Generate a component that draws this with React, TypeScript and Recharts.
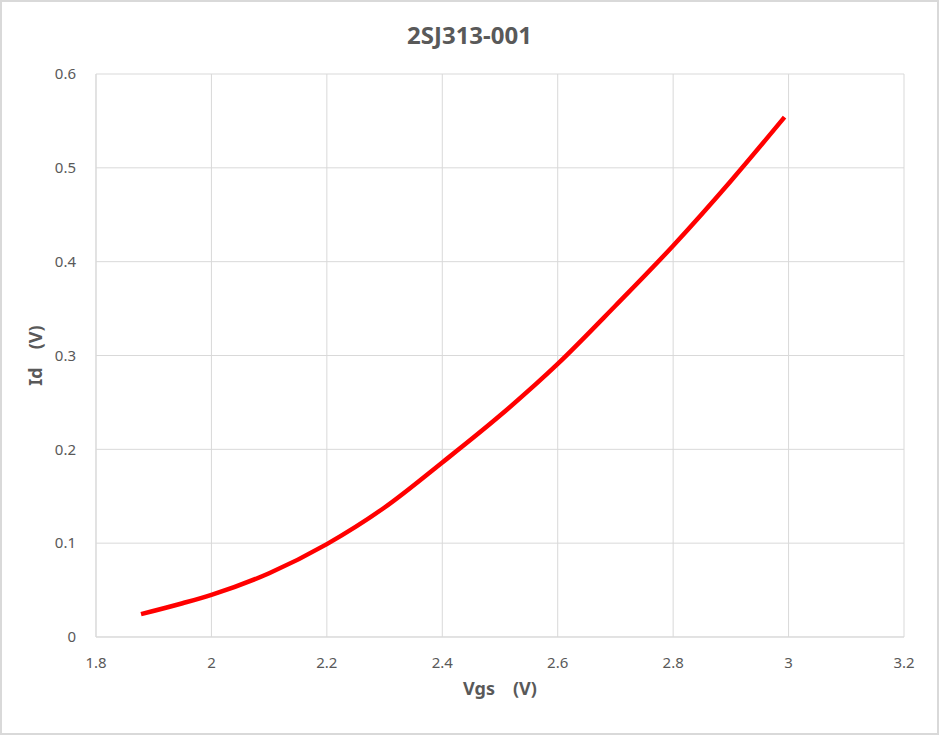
import { CartesianGrid, Line, LineChart, XAxis, YAxis, Label } from "recharts";

// Vgs (V)
const vgs = [1.878, 1.95, 2.0, 2.1, 2.2, 2.3, 2.4, 2.5, 2.6, 2.7, 2.8, 2.9, 2.993];
// Id values at the same points
const id = [0.0244, 0.036, 0.0449, 0.068, 0.099, 0.138, 0.186, 0.236, 0.291, 0.353, 0.417, 0.486, 0.554];

const xTicks = [1.8, 2, 2.2, 2.4, 2.6, 2.8, 3, 3.2];
const yTicks = [0, 0.1, 0.2, 0.3, 0.4, 0.5, 0.6];

const data = vgs.map((v, i) => ({ vgs: v, id: id[i] }));

const FONT = "'Noto Sans', 'Open Sans', sans-serif";
const tick = { fill: "#595959", fontSize: 15, fontFamily: FONT };
const grid = "#d9d9d9";

export default function App() {
  return (
    <div
      style={{
        position: "absolute",
        left: 0,
        top: 0,
        width: 939,
        height: 735,
        boxSizing: "border-box",
        border: "2px solid #d9d9d9",
        background: "#fff",
        fontFamily: FONT,
      }}
    >
      <div
        style={{
          position: "absolute",
          left: 0,
          width: "100%",
          top: 16,
          textAlign: "center",
          fontSize: 24,
          fontWeight: "bold",
          color: "#595959",
        }}
      >
        2SJ313-001
      </div>
      <LineChart
        width={935}
        height={731}
        data={data}
        margin={{ top: 72, right: 33, left: 32, bottom: 34 }}
        style={{ position: "absolute", left: 0, top: 0 }}
      >
        <CartesianGrid stroke={grid} strokeWidth={1} />
        <XAxis
          dataKey="vgs"
          type="number"
          domain={[1.8, 3.2]}
          ticks={xTicks}
          interval={0}
          tick={tick}
          tickLine={false}
          axisLine={{ stroke: grid }}
          tickMargin={14}
          height={62}
        >
          <Label
            value={"Vgs\u3000(V)"}
            position="insideBottom"
            offset={4}
            style={{ fill: "#595959", fontSize: 18, fontWeight: "bold", fontFamily: FONT }}
          />
        </XAxis>
        <YAxis
          type="number"
          domain={[0, 0.6]}
          ticks={yTicks}
          interval={0}
          tick={tick}
          tickLine={false}
          axisLine={{ stroke: grid }}
          tickMargin={14}
          width={62}
        >
          <Label
            value={"Id\u3000(V)"}
            angle={-90}
            position="insideLeft"
            offset={2}
            style={{ fill: "#595959", fontSize: 18, fontWeight: "bold", fontFamily: FONT, textAnchor: "middle" }}
          />
        </YAxis>
        <Line
          dataKey="id"
          type="monotone"
          stroke="#ff0000"
          strokeWidth={4.5}
          dot={false}
          isAnimationActive={false}
        />
      </LineChart>
    </div>
  );
}
